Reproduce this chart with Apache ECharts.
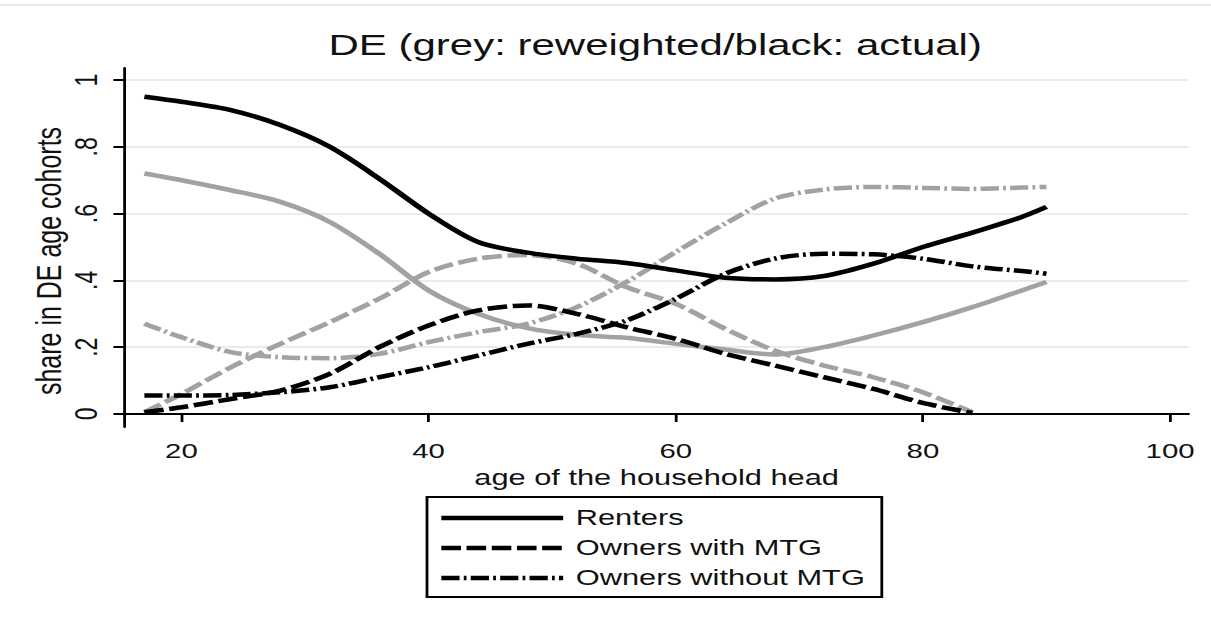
<!DOCTYPE html>
<html>
<head>
<meta charset="utf-8">
<script src="https://cdn.jsdelivr.net/npm/echarts@6/dist/echarts.min.js"></script>
<style>
  html, body { margin: 0; padding: 0; background: #fff; overflow: hidden; }
  /* the reference is a Stata graph stretched sideways, so draw narrow and widen it */
  #main { width: 865px; height: 625px; transform: scaleX(1.4); transform-origin: 0 0; }
</style>
</head>
<body>
<div id="main"></div>
<script>
// age of the household head
const ages = [17, 20, 24, 28, 32, 36, 40, 44, 48, 52, 56, 60, 64, 68, 72, 76, 80, 84, 88, 90];
const agesMtg = [17, 20, 24, 28, 32, 36, 40, 44, 48, 52, 56, 60, 64, 68, 72, 76, 80, 84];

// actual shares (black)
const rentersActual = [0.95, 0.935, 0.91, 0.865, 0.80, 0.705, 0.60, 0.515, 0.483, 0.465, 0.452, 0.43, 0.408, 0.403, 0.413, 0.45, 0.50, 0.543, 0.59, 0.62];
const mtgActual = [0.005, 0.02, 0.045, 0.07, 0.12, 0.20, 0.265, 0.31, 0.325, 0.30, 0.26, 0.225, 0.18, 0.145, 0.11, 0.075, 0.033, 0.003];
const noMtgActual = [0.055, 0.055, 0.057, 0.065, 0.08, 0.11, 0.14, 0.175, 0.21, 0.24, 0.28, 0.345, 0.42, 0.465, 0.48, 0.478, 0.465, 0.442, 0.428, 0.42];

// reweighted shares (grey)
const rentersReweighted = [0.72, 0.70, 0.67, 0.635, 0.575, 0.48, 0.37, 0.30, 0.257, 0.237, 0.228, 0.21, 0.193, 0.178, 0.20, 0.235, 0.275, 0.32, 0.37, 0.395];
const mtgReweighted = [0.005, 0.06, 0.14, 0.21, 0.275, 0.345, 0.425, 0.465, 0.476, 0.45, 0.38, 0.33, 0.255, 0.19, 0.145, 0.11, 0.065, 0.005];
const noMtgReweighted = [0.27, 0.23, 0.185, 0.17, 0.167, 0.18, 0.215, 0.245, 0.27, 0.32, 0.395, 0.485, 0.57, 0.645, 0.672, 0.68, 0.677, 0.674, 0.678, 0.68];

const xTicks = [20, 40, 60, 80, 100];
const yTicks = [0, 0.2, 0.4, 0.6, 0.8, 1];

const legendNames = ['Renters', 'Owners with MTG', 'Owners without MTG'];

const BLACK = '#000';
const GREY = '#a2a2a2';
const FONT = 'Liberation Sans';

const pair = (xs, ys) => xs.map((x, i) => [x, ys[i]]);

function curve(name, xs, ys, color, dash, z) {
  return {
    name: name,
    type: 'line',
    data: pair(xs, ys),
    smooth: 0.3,
    symbol: 'none',
    z: z,
    lineStyle: { color: color, width: 4.5, type: dash },
    itemStyle: { color: color },
    emphasis: { disabled: true }
  };
}

const chart = echarts.init(document.getElementById('main'), null, { renderer: 'svg' });

chart.setOption({
  animation: false,
  backgroundColor: '#fff',
  textStyle: { fontFamily: FONT, color: '#111' },
  grid: { left: 89, right: 16, top: 68, bottom: 198 },
  graphic: [
    {
      type: 'line',
      shape: { x1: 0, y1: 5, x2: 865, y2: 5 },
      style: { stroke: '#e8e8e8', lineWidth: 2 }
    },
    {
      type: 'text',
      x: 468,
      y: 45,
      style: {
        text: 'DE (grey: reweighted/black: actual)',
        font: '30px "Liberation Sans"',
        fill: '#111',
        align: 'center',
        verticalAlign: 'middle'
      }
    }
  ],
  legend: {
    data: legendNames,
    orient: 'vertical',
    left: 305,
    top: 497,
    padding: [10, 12, 8, 8],
    itemWidth: 87,
    itemHeight: 22,
    itemGap: 8,
    borderColor: '#000',
    borderWidth: 2,
    selectedMode: false,
    itemStyle: { opacity: 0 },
    lineStyle: { width: 4.5 },
    textStyle: { fontSize: 22, lineHeight: 22, color: '#111', fontFamily: FONT, padding: [0, 0, 0, 4] }
  },
  xAxis: {
    type: 'value',
    min: 15.4,
    max: 101.5,
    name: 'age of the household head',
    nameLocation: 'middle',
    nameGap: 42,
    nameMoveOverlap: false,
    nameTextStyle: { fontSize: 22, lineHeight: 18, color: '#111' },
    axisLine: { lineStyle: { color: '#000', width: 2 } },
    axisTick: { customValues: xTicks, length: 8, lineStyle: { color: '#000', width: 2 } },
    axisLabel: { customValues: xTicks, fontSize: 21, lineHeight: 18, color: '#111', margin: 15 },
    splitLine: { show: false }
  },
  yAxis: {
    type: 'value',
    min: -0.039,
    max: 1.036,
    name: 'share in DE age cohorts',
    nameLocation: 'middle',
    nameGap: 42,
    nameMoveOverlap: false,
    nameTextStyle: { fontSize: 25, color: '#111', padding: [0, 27, 0, 0] },
    axisLine: { lineStyle: { color: '#000', width: 2 } },
    axisTick: { customValues: yTicks, length: 8, lineStyle: { color: '#000', width: 2 } },
    axisLabel: {
      customValues: yTicks,
      rotate: 90,
      fontSize: 23,
      color: '#111',
      margin: 16,
      formatter: v => (v === 0 ? '0' : v === 1 ? '1' : String(v).replace('0.', '.'))
    },
    splitLine: { show: true, lineStyle: { color: '#e4e4e4', width: 1.5 } }
  },
  series: [
    curve('Renters', ages, rentersActual, BLACK, 'solid', 3),
    curve('Owners with MTG', agesMtg, mtgActual, BLACK, [14, 4], 3),
    curve('Owners without MTG', ages, noMtgActual, BLACK, [13, 3, 2, 3], 3),
    curve('Renters (reweighted)', ages, rentersReweighted, GREY, 'solid', 2),
    curve('Owners with MTG (reweighted)', agesMtg, mtgReweighted, GREY, [14, 4], 2),
    curve('Owners without MTG (reweighted)', ages, noMtgReweighted, GREY, [13, 3, 2, 3], 2)
  ]
});
</script>
</body>
</html>
